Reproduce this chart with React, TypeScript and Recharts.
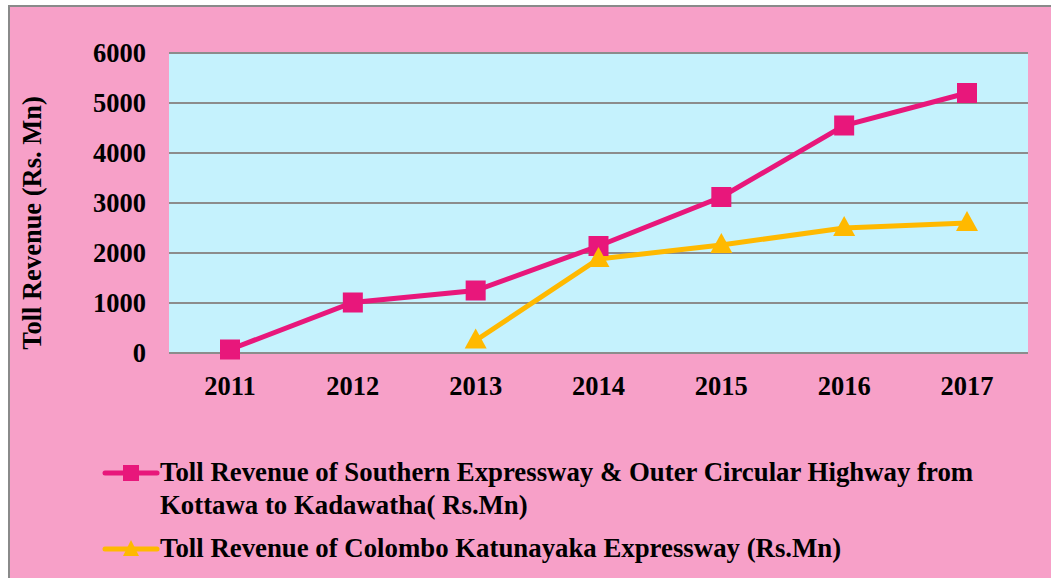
import React from "react";
import { LineChart, Line, XAxis, YAxis, CartesianGrid } from "recharts";

const years = ["2011", "2012", "2013", "2014", "2015", "2016", "2017"];
const southern = [70, 1010, 1250, 2140, 3120, 4550, 5200];
const katunayake = [null, null, 250, 1880, 2160, 2500, 2600];
const yTicks = [0, 1000, 2000, 3000, 4000, 5000, 6000];

const yTitle = "Toll Revenue (Rs. Mn)";
const southernName = "Toll Revenue of Southern Expressway & Outer Circular Highway from Kottawa to Kadawatha( Rs.Mn)";
const katunayakeName = "Toll Revenue of Colombo Katunayaka Expressway (Rs.Mn)";

const data = years.map((year, i) => ({
  year,
  southern: southern[i],
  katunayake: katunayake[i]
}));

const PINK = "#F7A0C8";
const MAGENTA = "#E8177B";
const ORANGE = "#FFB900";
const FONT = "'Liberation Serif', 'Times New Roman', serif";

const SquareDot = (props: any) => {
  const { cx, cy, index } = props;
  if (cx == null || cy == null) return <g key={`s-${index}`} />;
  return <rect key={`s-${index}`} x={cx - 10} y={cy - 10} width={20} height={20} fill={MAGENTA} />;
};

const TriangleDot = (props: any) => {
  const { cx, cy, index, value } = props;
  if (cx == null || cy == null || value == null) return <g key={`t-${index}`} />;
  return (
    <polygon
      key={`t-${index}`}
      points={`${cx},${cy - 12} ${cx - 11},${cy + 8} ${cx + 11},${cy + 8}`}
      fill={ORANGE}
    />
  );
};

const XTick = (props: any) => {
  const { x, y, payload } = props;
  return (
    <text x={x} y={y + 40} textAnchor="middle" fontFamily={FONT} fontWeight="bold" fontSize={26.5} fill="#000">
      {payload.value}
    </text>
  );
};

// rotated axis title, sits a little below the plot's middle like the original
const YTitle = (props: any) => {
  const cy = props.viewBox.y + props.viewBox.height / 2 + 20;
  const cx = 22;
  return (
    <text
      x={cx}
      y={cy}
      transform={`rotate(-90, ${cx}, ${cy})`}
      textAnchor="middle"
      dominantBaseline="central"
      fontFamily={FONT}
      fontWeight="bold"
      fontSize={26.5}
      fill="#000"
    >
      {yTitle}
    </text>
  );
};

const LegendSample = ({ color, shape }: { color: string; shape: "square" | "triangle" }) => (
  <svg width={58} height={20} style={{ flex: "none", marginTop: 7 }}>
    <line x1={3} y1={10} x2={55} y2={10} stroke={color} strokeWidth={5} strokeLinecap="round" />
    {shape === "square" ? (
      <rect x={21} y={2} width={16} height={16} fill={color} />
    ) : (
      <polygon points="29,1 21,17 37,17" fill={color} />
    )}
  </svg>
);

export default function App() {
  return (
    <div
      style={{
        position: "absolute",
        left: 8,
        top: 5,
        width: 1043,
        height: 573,
        boxSizing: "border-box",
        borderLeft: "2px solid #8a8a8a",
        borderTop: "2px solid #8a8a8a",
        background: PINK,
        fontFamily: FONT
      }}
    >
      <LineChart width={1041} height={571} data={data} margin={{ top: 46, right: 23, left: 0, bottom: 165 }}>
        <CartesianGrid vertical={false} fill="#C5F2FD" stroke="#8C8C8C" strokeWidth={2} />
        <XAxis
          dataKey="year"
          axisLine={false}
          tickLine={false}
          tickSize={0}
          height={60}
          padding={{ left: 61, right: 61 }}
          tick={<XTick />}
        />
        <YAxis
          width={159}
          domain={[0, 6000]}
          ticks={yTicks}
          axisLine={false}
          tickLine={false}
          tickSize={0}
          tickMargin={23}
          tick={{ fontFamily: FONT, fontWeight: "bold", fontSize: 26.5, fill: "#000" }}
          label={{ content: <YTitle /> }}
        />
        <Line
          type="linear"
          dataKey="southern"
          name={southernName}
          stroke={MAGENTA}
          strokeWidth={5}
          dot={<SquareDot />}
          activeDot={false}
          isAnimationActive={false}
        />
        <Line
          type="linear"
          dataKey="katunayake"
          name={katunayakeName}
          stroke={ORANGE}
          strokeWidth={5}
          dot={<TriangleDot />}
          activeDot={false}
          connectNulls={false}
          isAnimationActive={false}
        />
      </LineChart>
      <div
        style={{
          position: "absolute",
          left: 92,
          top: 449,
          width: 940,
          fontWeight: "bold",
          fontSize: 26.8,
          lineHeight: "33px",
          color: "#000"
        }}
      >
        <div style={{ display: "flex", alignItems: "flex-start" }}>
          <LegendSample color={MAGENTA} shape="square" />
          <span>{southernName}</span>
        </div>
        <div style={{ display: "flex", alignItems: "flex-start", marginTop: 10 }}>
          <LegendSample color={ORANGE} shape="triangle" />
          <span>{katunayakeName}</span>
        </div>
      </div>
    </div>
  );
}
